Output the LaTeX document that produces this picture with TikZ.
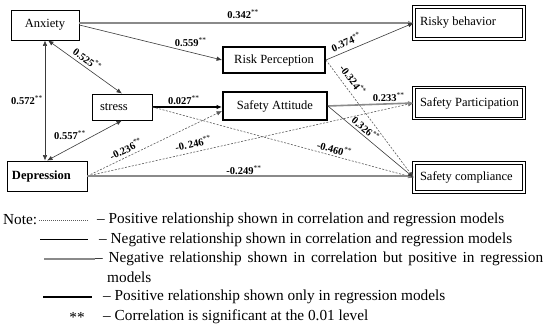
\documentclass[tikz,border=0pt]{standalone}
\usepackage{fontspec}
\setmainfont{Liberation Serif}
\usetikzlibrary{arrows.meta}
\definecolor{lnkdark}{HTML}{3A3A3A}
\definecolor{lnkdash}{HTML}{5A5A5A}
\definecolor{lnkgray}{HTML}{8A8A8A}
\newcommand{\sig}{\textsuperscript{\normalfont **}}

\begin{document}
\begin{tikzpicture}[x=1pt, y=-1pt,
  font=\fontsize{12.5}{14}\selectfont,
  var/.style={draw, line width=0.8pt, minimum height=30pt, inner sep=0pt},
  med/.style={draw, line width=1.8pt, minimum width=102pt, minimum height=26pt, inner sep=0pt},
  outc/.style={draw, double, double distance=1.6pt, line width=0.9pt, text width=104pt, inner xsep=3pt, inner ysep=0pt, align=flush left, minimum height=30pt},
  onearr/.style={-{Latex[length=5.5pt, width=4.5pt]}},
  twoarr/.style={{Latex[length=5.5pt, width=4.5pt]}-{Latex[length=5.5pt, width=4.5pt]}},
  negrel/.style={draw=lnkdark, line width=0.6pt},
  posrel/.style={draw=lnkdash, line width=0.6pt, dash pattern=on 2pt off 1.5pt},
  mixrel/.style={draw=lnkgray, line width=1.6pt},
  regrel/.style={draw=black, line width=1.5pt},
  lbl/.style={font=\fontsize{10.5}{12}\selectfont\bfseries, inner sep=1pt},
  note/.style={anchor=west, inner sep=0pt, font=\fontsize{15.3}{17}\selectfont}
]
\useasboundingbox (0,0) rectangle (550,328);
% ---- predictors and mediators ----
\node[var, minimum width=68pt] (anx) at (45,25) {Anxiety};
\node[var, minimum height=26pt, text width=44pt, inner xsep=8pt, align=flush left] (str) at (122,107) {stress};
\node[var, text width=70pt, inner xsep=5pt, align=flush left, font=\fontsize{12.5}{14}\selectfont\bfseries] (dep) at (47,176) {Depression};
\node[med] (rp) at (274,60) {Risk Perception};
\node[med, minimum width=104pt, minimum height=28pt] (sa) at (275,106) {Safety Attitude};
% ---- outcomes ----
\node[outc, minimum height=32pt] (rb) at (469,23) {\hspace{3pt}Risky behavior};
\node[outc, minimum height=31pt] (sp) at (469,103) {\hspace{3pt}Safety Participation};
\node[outc, minimum height=29pt] (sc) at (469,177.5) {\hspace{3pt}Safety compliance};
% ---- paths ----
\draw[mixrel, onearr] (anx.east |- rb.west) -- node[lbl, pos=0.49, above=3pt]{0.342\sig} (rb.west);
\draw[negrel, onearr] (anx.east) -- node[lbl, pos=0.78, above=4pt]{0.559\sig} (rp.west);
\draw[negrel, twoarr] ([xshift=3pt]anx.south) -- node[lbl, pos=0.47, sloped, above=2pt]{0.525\sig} (str.north);
\draw[negrel, twoarr] (anx.south) -- node[lbl, midway, left=1pt]{0.572\sig} (anx.south |- dep.north);
\draw[negrel, twoarr] (dep.north) -- node[lbl, pos=0.52, above left=-1pt]{0.557\sig} (str.south);
\draw[regrel, onearr] (str.east) -- node[lbl, pos=0.45, above=1pt]{0.027\sig} (str.east -| sa.west);
\draw[posrel, onearr] (str.east) -- node[lbl, pos=0.69, sloped, above=1pt]{-0.460\sig} (sc.west);
\draw[posrel, onearr] (dep.east) -- node[lbl, pos=0.31, sloped, above=2pt]{-0.236\sig} ([yshift=-5pt]sa.west);
\draw[posrel, onearr] (dep.east) -- node[lbl, pos=0.33, sloped, above=3pt]{-0.\,246\sig} (sp.west);
\draw[mixrel, onearr] (dep.east) -- node[lbl, pos=0.48, above=0pt]{-0.249\sig} (dep.east -| sc.west);
\draw[negrel, onearr] (rp.east) -- node[lbl, pos=0.27, sloped, above=3pt]{0.374\sig} (rb.west);
\draw[posrel, onearr] (rp.east) -- node[lbl, pos=0.22, sloped, above=4pt]{-0.324\sig} (sc.west);
\draw[mixrel, onearr] (sa.east) -- node[lbl, pos=0.71, above=0pt]{0.233\sig} (sp.west);
\draw[negrel, onearr] (sa.east) -- node[lbl, pos=0.39, sloped, above=1pt]{0.326\sig} (sc.west);
% ---- legend ----
\node[note] (nt) at (3,220) {Note:};
\node[note] (lg1) at (97,220) {– Positive relationship shown in correlation and regression models};
\draw[draw=lnkdash, line width=0.6pt, dash pattern=on 1pt off 1pt] ([xshift=-58pt]lg1.west) -- ([xshift=-9pt]lg1.west);
\node[note] (lg2) at (99,240) {– Negative relationship shown in correlation and regression models};
\draw[black, line width=1pt] ([xshift=-59pt]lg2.west) -- ([xshift=-11pt]lg2.west);
\node[note] (lg3) at (95,259) {\makebox[448pt][s]{– Negative relationship shown in correlation but positive in regression}};
\draw[lnkgray, line width=2.4pt] ([xshift=-51pt]lg3.west) -- (lg3.west);
\node[note] (lg3b) at (107,277) {models};
\node[note] (lg4) at (103,297) {– Positive relationship shown only in regression models};
\draw[black, line width=1.8pt] ([xshift=-60pt]lg4.west) -- ([xshift=-11pt]lg4.west);
\node[note, anchor=center] (ast) at (77,317) {**};
\node[note] (lg5) at (103,317) {– Correlation is significant at the 0.01 level};
\end{tikzpicture}
\end{document}
